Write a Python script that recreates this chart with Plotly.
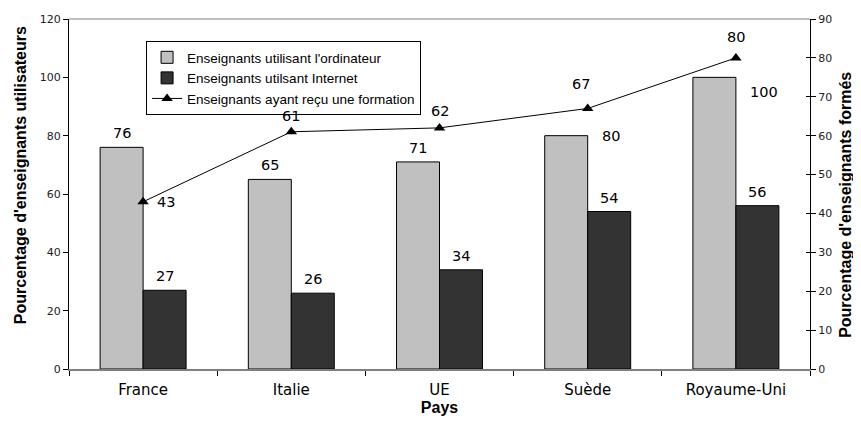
import plotly.graph_objects as go

# ---- data ----
pays = ["France", "Italie", "UE", "Suède", "Royaume-Uni"]
ordinateur = [76, 65, 71, 80, 100]
internet = [27, 26, 34, 54, 56]
formation = [43, 61, 62, 67, 80]

left_ticks = [0, 20, 40, 60, 80, 100, 120]
right_ticks = [0, 10, 20, 30, 40, 50, 60, 70, 80, 90]

# ---- label placement styles (pixel offsets) ----
# (dx_in_category_units, xanchor, xshift, yanchor, yshift)
ord_lbl = [(-0.145, "center", 0, "bottom", 4),
           (-0.145, "center", 0, "bottom", 4),
           (-0.145, "center", 0, "bottom", 4),
           (0.0, "left", 12, "middle", 0),
           (0.0, "left", 12, "middle", -15)]
int_lbl = [(0.145, "center", 0, "bottom", 4)] * 5
form_lbl = [(0.0, "left", 12, "middle", 0),
            (0.0, "center", 0, "middle", 16),
            (0.0, "center", 0, "middle", 17),
            (0.0, "center", -7, "middle", 24),
            (0.0, "center", 0, "middle", 21)]

GREY = "#c0c0c0"
DARK = "#333333"
LABEL_FONT = dict(family="DejaVu Sans", size=14.5, color="black")
TICK_FONT = dict(family="DejaVu Sans", size=11, color="#222222")
TITLE_FONT = dict(family="Liberation Sans, Arial", size=16, color="black")

fig = go.Figure()
fig.add_trace(go.Bar(
    x=pays, y=ordinateur, name="Enseignants utilisant l'ordinateur",
    marker=dict(color=GREY, line=dict(color="black", width=1)),
))
fig.add_trace(go.Bar(
    x=pays, y=internet, name="Enseignants utilsant Internet",
    marker=dict(color=DARK, line=dict(color="black", width=1)),
))
fig.add_trace(go.Scatter(
    x=pays, y=formation, name="Enseignants ayant reçu une formation",
    mode="lines+markers", yaxis="y2",
    line=dict(color="black", width=1),
    marker=dict(symbol="triangle-up", size=10, color="black"),
))

annotations = []
for series, specs, yref in ((ordinateur, ord_lbl, "y"),
                            (internet, int_lbl, "y"),
                            (formation, form_lbl, "y2")):
    for i, (v, s) in enumerate(zip(series, specs)):
        dx, xa, xs, ya, ys = s
        annotations.append(dict(
            x=i + dx, y=v, xref="x", yref=yref, text=str(v), showarrow=False,
            xanchor=xa, yanchor=ya, xshift=xs, yshift=ys, font=LABEL_FONT))

# axis titles
annotations.append(dict(text="<b>Pourcentage d'enseignants utilisateurs</b>",
                        x=-0.066, xref="paper", y=0.554, yref="paper",
                        showarrow=False, textangle=-90, font=TITLE_FONT,
                        xanchor="center", yanchor="middle"))
annotations.append(dict(text="<b>Pourcentage d'enseignants formés</b>",
                        x=1.0486, xref="paper", y=0.469, yref="paper",
                        showarrow=False, textangle=-90, font=TITLE_FONT,
                        xanchor="center", yanchor="middle"))

# page body has an 8px margin, so the figure is 8px smaller than the window
fig.update_layout(
    width=853, height=413,
    margin=dict(l=61, r=51, t=11, b=52, autoexpand=False),
    paper_bgcolor="white", plot_bgcolor="white",
    barmode="group", bargap=0.42, bargroupgap=0,
    font=dict(family="Liberation Sans, Arial", color="black"),
    showlegend=True,
    legend=dict(x=0.104, y=0.937, xanchor="left", yanchor="top",
                bgcolor="white", bordercolor="black", borderwidth=1,
                font=dict(family="Liberation Sans, Arial", size=13.5, color="black"),
                tracegroupgap=0, itemwidth=30),
    xaxis=dict(
        type="category", showgrid=False, showline=True, linecolor="#808080",
        linewidth=2, ticks="outside", ticklen=5, tickcolor="black",
        tickson="boundaries", automargin=False, ticklabelstandoff=6,
        tickfont=dict(family="DejaVu Sans", size=15, color="black"),
        title=dict(text="<b>Pays</b>", font=TITLE_FONT, standoff=4),
    ),
    yaxis=dict(
        range=[0, 120], tickvals=left_ticks, showgrid=False, zeroline=False,
        showline=True, linecolor="black", linewidth=1, automargin=False,
        ticks="outside", ticklen=5, tickcolor="black", tickfont=TICK_FONT,
    ),
    yaxis2=dict(
        range=[0, 90], tickvals=right_ticks, overlaying="y", side="right",
        showgrid=False, zeroline=False, showline=True, linecolor="black",
        linewidth=1, ticks="outside", ticklen=5, tickcolor="black",
        tickfont=TICK_FONT, anchor="x", automargin=False,
    ),
    yaxis3=dict(
        range=[0, 90], tickvals=right_ticks, overlaying="y", side="right",
        anchor="x", showgrid=False, zeroline=False, showline=False,
        ticks="inside", ticklen=4, tickcolor="black", showticklabels=False,
        automargin=False,
    ),
    shapes=[dict(type="line", xref="paper", yref="paper", x0=0, x1=1, y0=1, y1=1,
                 line=dict(color="#808080", width=1))],
    annotations=annotations,
)

# invisible helper trace so the tick-only yaxis3 is drawn
fig.add_trace(go.Scatter(x=[pays[0]], y=[0], yaxis="y3", mode="markers",
                         marker=dict(opacity=0), showlegend=False, hoverinfo="skip"))

fig.write_html("out.html")
